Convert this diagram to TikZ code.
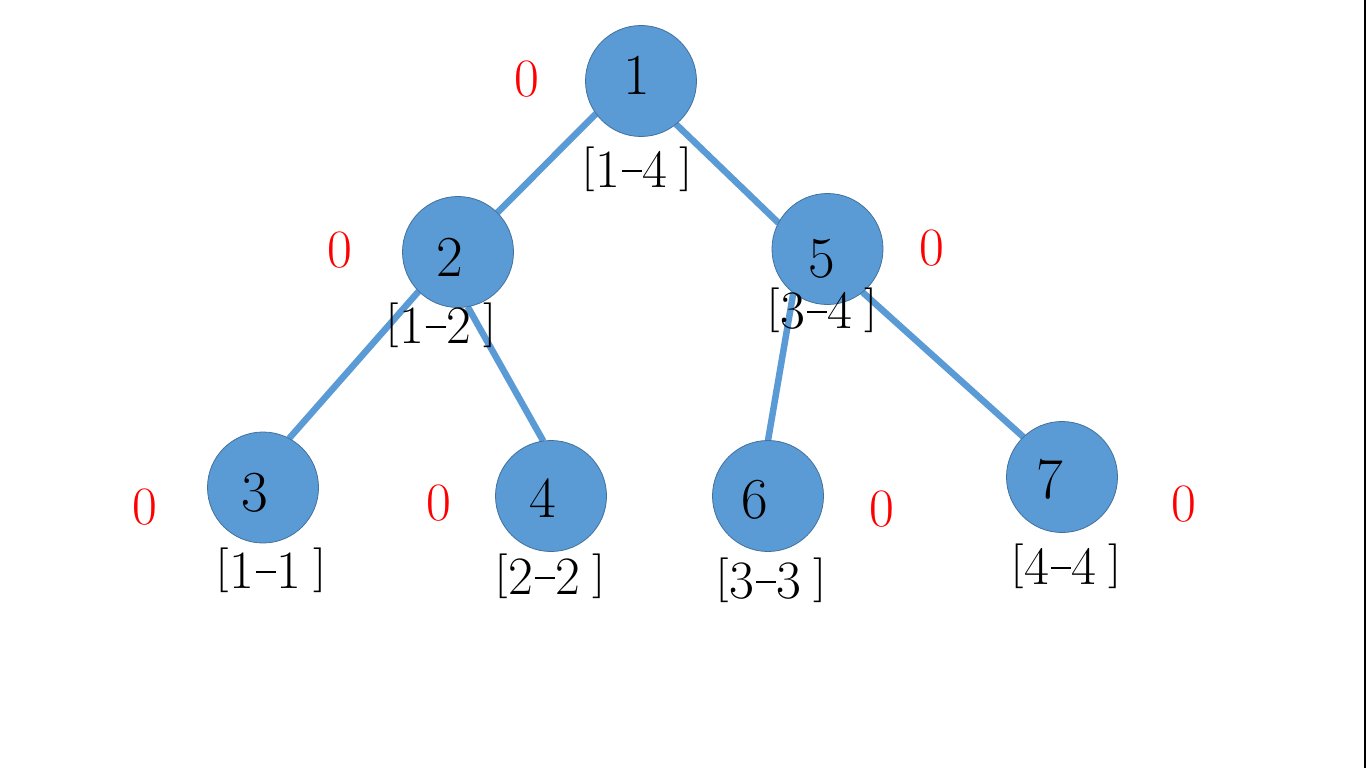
\documentclass[tikz,border=0pt]{standalone}
\usetikzlibrary{backgrounds}
\definecolor{nodefill}{HTML}{5B9BD5}
\definecolor{nodeedge}{HTML}{41719C}
\newcommand\lbr{\raisebox{7pt}{\scalebox{1}[0.83]{[}}}
\newcommand\rbr{\raisebox{7pt}{\scalebox{1}[0.83]{]}}}
\newcommand\rng[2]{\lbr\kern1pt#1\kern1pt\rule[15pt]{20pt}{1.8pt}\kern1pt#2\kern12pt\rbr}
\begin{document}
\begin{tikzpicture}[x=1pt,y=-1pt,
  treenode/.style={circle,fill=nodefill,draw=nodeedge,line width=0.8pt,minimum size=111pt,inner sep=0pt,outer sep=0pt},
  numtext/.style={font=\fontsize{58}{58}\selectfont,inner sep=0pt},
  rangetext/.style={font=\fontsize{54}{54}\selectfont,inner sep=0pt},
  zerotext/.style={font=\fontsize{54}{54}\selectfont,text=red,inner sep=0pt},
  edge/.style={draw=nodefill,line width=6.5pt}]
\useasboundingbox (0,0) rectangle (1366,768);
% circles
\node[treenode] (n1) at (641,81) {};
\node[treenode] (n2) at (458,252) {};
\node[treenode] (n5) at (827.5,249) {};
\node[treenode] (n3) at (263,487.5) {};
\node[treenode] (n4) at (551,496) {};
\node[treenode] (n6) at (768,496) {};
\node[treenode] (n7) at (1062,477) {};
% background and connectors behind the circles
\begin{pgfonlayer}{background}
\fill[white] (0,0) rectangle (1366,768);
\draw[edge] (n1.216) -- (n2.45.7);
\draw[edge] (n1.-51) -- (n5.152.5);
\draw[edge] (n2.-135) -- (n3.62);
\draw[edge] (n2.-80) -- (n4.98);
\draw[edge] (n5.-128) -- (n6.90);
\draw[edge] (n5.-51) -- (n7.134);
\end{pgfonlayer}
\fill[black] (1363.8,0) rectangle (1366,768);
% numbers
\node[numtext] (t1) at (637,75) {1};
\node[numtext] (t2) at (450,257) {2};
\node[numtext] (t5) at (822,259) {5};
\node[numtext] (t3) at (255,493) {3};
\node[numtext] (t4) at (543,498) {4};
\node[numtext] (t6) at (755,500) {6};
\node[numtext] (t7) at (1050,479) {7};
% ranges
\node[rangetext] (r1) at (637,169) {\rng{1}{4}};
\node[rangetext] (r2) at (441,325) {\rng{1}{2}};
\node[rangetext] (r5) at (822,310) {\rng{3}{4}};
\node[rangetext] (r3) at (271,570) {\rng{1}{1}};
\node[rangetext] (r4) at (550,576) {\rng{2}{2}};
\node[rangetext] (r6) at (771,580) {\rng{3}{3}};
\node[rangetext] (r7) at (1066,566) {\rng{4}{4}};
% zeros
\node[zerotext] (z1) at (527,79) {0};
\node[zerotext] (z2) at (340,250) {0};
\node[zerotext] (z5) at (932,248) {0};
\node[zerotext] (z3) at (145,507) {0};
\node[zerotext] (z4) at (439,503) {0};
\node[zerotext] (z6) at (882,509) {0};
\node[zerotext] (z7) at (1184,504) {0};
\end{tikzpicture}
\end{document}
